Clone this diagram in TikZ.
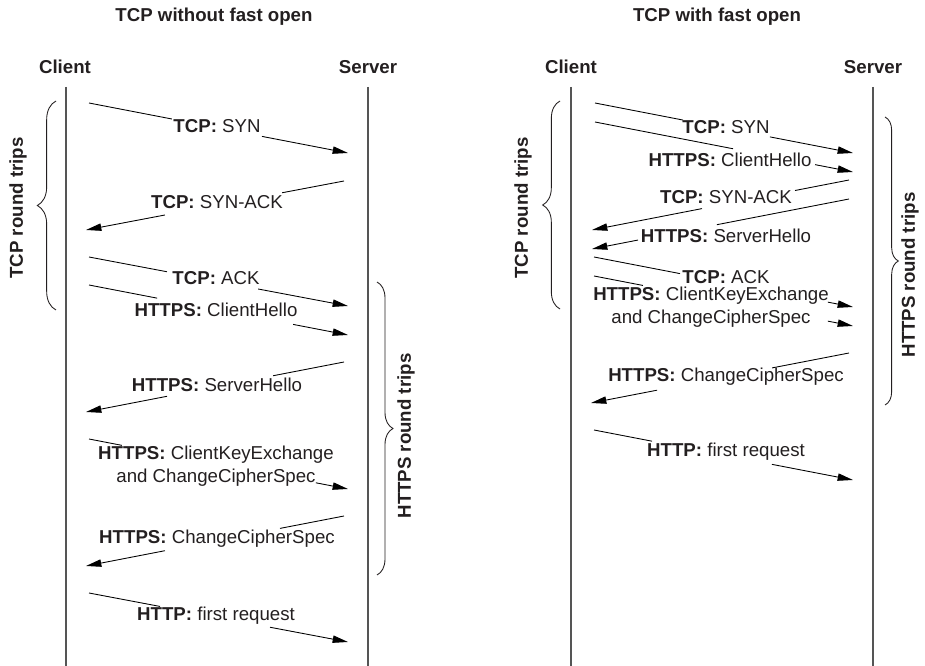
\documentclass[tikz,border=0pt]{standalone}
\usepackage{fontspec}
\setmainfont{Liberation Sans}
\usetikzlibrary{arrows.meta,decorations.pathreplacing,calc}
\definecolor{ink}{RGB}{35,31,32}
\definecolor{lifegray}{RGB}{85,85,85}
% message with a gap for its label: #1 start, #2 end, #3/#4 fractions where the gap starts/ends
\newcommand\gapmsg[4]{%
  \draw[seg] (#1) -- ($(#1)!#3!(#2)$);
  \draw[msg] ($(#1)!#4!(#2)$) -- (#2);}
\begin{document}
\begin{tikzpicture}[x=0.75pt,y=-0.75pt,
  every node/.style={font=\fontsize{14}{17.3}\selectfont, text=ink},
  life/.style={draw=lifegray, line width=1.1pt},
  seg/.style={draw=black, line width=0.65pt},
  msg/.style={seg, -{Triangle[length=11.5pt,width=5.5pt]}},
  lbl/.style={inner sep=1pt, align=center},
  hdr/.style={font=\fontsize{14}{17.3}\selectfont\bfseries},
  brc/.style={draw=ink, decorate, decoration={brace, amplitude=#1}, line width=0.65pt},
  rtl/.style={rotate=90, font=\fontsize{14}{17.3}\selectfont\bfseries}
]
\useasboundingbox (0,0) rectangle (925,666);

% ---------- titles and headers ----------
\node[hdr] (t1) at (214,17) {TCP without fast open};
\node[hdr] (t2) at (717,17) {TCP with fast open};
\node[hdr] (c1) at (65,67) {Client};
\node[hdr] (s1) at (368,67) {Server};
\node[hdr] (c2) at (571,67) {Client};
\node[hdr] (s2) at (873,67) {Server};

% ---------- lifelines ----------
\coordinate (c1t) at (66,87);  \coordinate (c1b) at (66,666);
\coordinate (s1t) at (368,87); \coordinate (s1b) at (368,666);
\coordinate (c2t) at (571,87); \coordinate (c2b) at (571,666);
\coordinate (s2t) at (873,87); \coordinate (s2b) at (873,666);
\draw[life] (c1t) -- (c1b);
\draw[life] (s1t) -- (s1b);
\draw[life] (c2t) -- (c2b);
\draw[life] (s2t) -- (s2b);

% ---------- left: without fast open ----------
\coordinate (a1s) at (89,103);  \coordinate (a1e) at (348,153);
\coordinate (a2s) at (344,181); \coordinate (a2e) at (86,230);
\coordinate (a3s) at (89,257);  \coordinate (a3e) at (348,306);
\coordinate (a4s) at (89,285);  \coordinate (a4e) at (348,335);
\coordinate (a5s) at (344,362); \coordinate (a5e) at (86,412);
\coordinate (a6s) at (89,439);  \coordinate (a6e) at (348,489);
\coordinate (a7s) at (344,516); \coordinate (a7e) at (86,566);
\coordinate (a8s) at (89,593);  \coordinate (a8e) at (348,642);
\gapmsg{a1s}{a1e}{0.320}{0.668}
\gapmsg{a2s}{a2e}{0.240}{0.694}
\gapmsg{a3s}{a3e}{0.301}{0.653}
\gapmsg{a4s}{a4e}{0.263}{0.788}
\gapmsg{a5s}{a5e}{0.275}{0.686}
\gapmsg{a6s}{a6e}{0.127}{0.876}
\gapmsg{a7s}{a7e}{0.248}{0.694}
\gapmsg{a8s}{a8e}{0.274}{0.699}

\node[lbl] (la1) at (217,126) {\textbf{TCP:} SYN};
\node[lbl] (la2) at (217,202) {\textbf{TCP:} SYN-ACK};
\node[lbl] (la3) at (216,278) {\textbf{TCP:} ACK};
\node[lbl] (la4) at (216,310) {\textbf{HTTPS:} ClientHello};
\node[lbl] (la5) at (217,385) {\textbf{HTTPS:} ServerHello};
\node[lbl] (la6) at (216,466) {\textbf{HTTPS:} ClientKeyExchange\\and ChangeCipherSpec};
\node[lbl] (la7) at (217,539) {\textbf{HTTPS:} ChangeCipherSpec};
\node[lbl] (la8) at (216,616) {\textbf{HTTP:} first request};

% braces left
\coordinate (br1a) at (56,310); \coordinate (br1b) at (56,101);
\draw[brc=14pt] (br1a) -- (br1b);
\node[rtl] (bl1) at (18,208) {TCP round trips};
\coordinate (br2a) at (377,282); \coordinate (br2b) at (377,575);
\draw[brc=12pt] (br2a) -- (br2b);
\node[rtl] (bl2) at (406,436) {HTTPS round trips};

% ---------- right: with fast open ----------
\coordinate (b1s) at (595,103); \coordinate (b1e) at (853,153);
\coordinate (b2s) at (595,122); \coordinate (b2e) at (853,172);
\coordinate (b3s) at (849,180); \coordinate (b3e) at (592,230);
\coordinate (b4s) at (849,199); \coordinate (b4e) at (592,249);
\coordinate (b5s) at (594,257); \coordinate (b5e) at (853,307);
\coordinate (b6s) at (594,276); \coordinate (b6e) at (853,326);
\coordinate (b7s) at (849,353); \coordinate (b7e) at (591,403);
\coordinate (b8s) at (594,430); \coordinate (b8e) at (853,480);
\gapmsg{b1s}{b1e}{0.341}{0.678}
\gapmsg{b2s}{b2e}{0.535}{0.853}
\gapmsg{b3s}{b3e}{0.210}{0.572}
\gapmsg{b4s}{b4e}{0.514}{0.821}
\gapmsg{b5s}{b5e}{0.332}{0.903}
\gapmsg{b6s}{b6e}{0.189}{0.903}
\gapmsg{b7s}{b7e}{0.298}{0.744}
\gapmsg{b8s}{b8e}{0.224}{0.687}

\node[lbl] (lb1) at (726,127) {\textbf{TCP:} SYN};
\node[lbl] (lb2) at (730,160) {\textbf{HTTPS:} ClientHello};
\node[lbl] (lb3) at (726,197) {\textbf{TCP:} SYN-ACK};
\node[lbl] (lb4) at (726,236) {\textbf{HTTPS:} ServerHello};
\node[lbl] (lb5) at (726,277) {\textbf{TCP:} ACK};
\node[lbl] (lb6) at (711,307) {\textbf{HTTPS:} ClientKeyExchange\\and ChangeCipherSpec};
\node[lbl] (lb7) at (726,377) {\textbf{HTTPS:} ChangeCipherSpec};
\node[lbl] (lb8) at (726,452) {\textbf{HTTP:} first request};

% braces right
\coordinate (br3a) at (560,309); \coordinate (br3b) at (560,101);
\draw[brc=13pt] (br3a) -- (br3b);
\node[rtl] (bl3) at (523,208) {TCP round trips};
\coordinate (br4a) at (885,117); \coordinate (br4b) at (885,405);
\draw[brc=10pt] (br4a) -- (br4b);
\node[rtl] (bl4) at (910,275) {HTTPS round trips};
\end{tikzpicture}
\end{document}
